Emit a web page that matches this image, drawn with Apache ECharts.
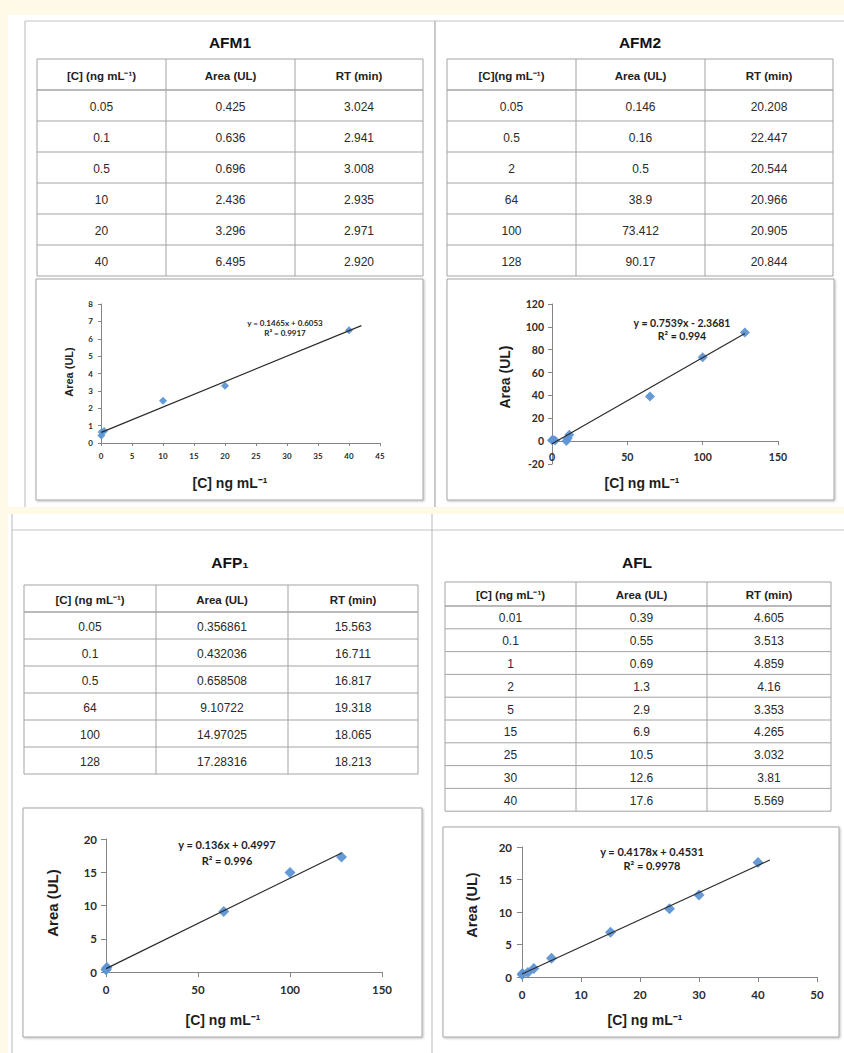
<!DOCTYPE html>
<html>
<head>
<meta charset="utf-8">
<script src="https://cdn.jsdelivr.net/npm/echarts@6/dist/echarts.min.js"></script>
<style>
  html, body { margin: 0; padding: 0; background: #fffae8; }
  #main { width: 844px; height: 1053px; }
</style>
</head>
<body>
<div id="main"></div>
<script>
// ---- AFM1 calibration ----
const afm1Header = ['[C] (ng mL⁻¹)', 'Area (UL)', 'RT (min)'];
const afm1Conc = [0.05, 0.1, 0.5, 10, 20, 40];
const afm1Area = [0.425, 0.636, 0.696, 2.436, 3.296, 6.495];
const afm1RT = ['3.024', '2.941', '3.008', '2.935', '2.971', '2.920'];
const afm1Trend = [0.1465, 0.6053];
const afm1R2 = '0.9917';
const afm1TrendRange = [0.05, 42];

// ---- AFM2 calibration ----
const afm2Header = ['[C](ng mL⁻¹)', 'Area (UL)', 'RT (min)'];
const afm2Conc = [0.05, 0.5, 2, 64, 100, 128];
const afm2Area = [0.146, 0.16, 0.5, 38.9, 73.412, 90.17];
const afm2RT = ['20.208', '22.447', '20.544', '20.966', '20.905', '20.844'];
// points plotted on the AFM2 curve
const afm2PlotConc = [0.05, 0.5, 2, 9.5, 10.5, 11.5, 65, 100, 128];
const afm2PlotArea = [0.8, 1.2, 0.5, 0.2, 2.5, 5.5, 39, 73.4, 95];
const afm2Trend = [0.7539, -2.3681];
const afm2R2 = '0.994';
const afm2TrendRange = [0.05, 128];

// ---- AFP1 calibration ----
const afp1Header = ['[C] (ng mL⁻¹)', 'Area (UL)', 'RT (min)'];
const afp1Conc = [0.05, 0.1, 0.5, 64, 100, 128];
const afp1Area = [0.356861, 0.432036, 0.658508, 9.10722, 14.97025, 17.28316];
const afp1RT = ['15.563', '16.711', '16.817', '19.318', '18.065', '18.213'];
const afp1Trend = [0.136, 0.4997];
const afp1R2 = '0.996';
const afp1TrendRange = [0.05, 128];

// ---- AFL calibration ----
const aflHeader = ['[C] (ng mL⁻¹)', 'Area (UL)', 'RT (min)'];
const aflConc = [0.01, 0.1, 1, 2, 5, 15, 25, 30, 40];
const aflArea = [0.39, 0.55, 0.69, 1.3, 2.9, 6.9, 10.5, 12.6, 17.6];
const aflRT = ['4.605', '3.513', '4.859', '4.16', '3.353', '4.265', '3.032', '3.81', '5.569'];
const aflTrend = [0.4178, 0.4531];
const aflR2 = '0.9978';
const aflTrendRange = [0.01, 42];

// axis scales [min, max, interval]
const afm1XAxis = [0, 45, 5];   const afm1YAxis = [0, 8, 1];
const afm2XAxis = [0, 150, 50]; const afm2YAxis = [-20, 120, 20];
const afp1XAxis = [0, 150, 50]; const afp1YAxis = [0, 20, 5];
const aflXAxis = [0, 50, 10];   const aflYAxis = [0, 20, 5];

// ---- layout ----
const tableFont = "'Liberation Sans', Arial, sans-serif";
const excelFont = "Lato, 'Open Sans', sans-serif";
const gridLine = '#a3a3a3';
const markerColor = '#5e95d4';

const panels = [
  {
    title: 'AFM1', titlePos: [230, 42], header: afm1Header, conc: afm1Conc, area: afm1Area, rt: afm1RT,
    px: afm1Conc, py: afm1Area, trend: afm1Trend, r2: afm1R2, range: afm1TrendRange, xs: afm1XAxis, ys: afm1YAxis,
    cols: [37, 166, 295, 423], tTop: 59, headH: 31, rowH: 31,
    box: [36, 279, 387, 221], grid: [101, 304, 279, 139],
    tick: 8, tickLen: 3, xMargin: 9, yMargin: 8, marker: 8,
    eq: [285, 323, 333, 8], xTitle: [230, 483, 14], yTitle: [69, 372, 11]
  },
  {
    title: 'AFM2', titlePos: [640, 42], header: afm2Header, conc: afm2Conc, area: afm2Area, rt: afm2RT,
    px: afm2PlotConc, py: afm2PlotArea, trend: afm2Trend, r2: afm2R2, range: afm2TrendRange, xs: afm2XAxis, ys: afm2YAxis,
    cols: [447, 576, 705, 833], tTop: 59, headH: 31, rowH: 31,
    box: [447, 279, 387, 221], grid: [552, 304, 226, 160],
    tick: 10.5, tickLen: 4, xMargin: 10, yMargin: 8, marker: 10,
    eq: [682, 323, 336, 10.5], xTitle: [642, 483, 14], yTitle: [505, 377, 14]
  },
  {
    title: 'AFP₁', titlePos: [230, 562], header: afp1Header, conc: afp1Conc, area: afp1Area, rt: afp1RT,
    px: afp1Conc, py: afp1Area, trend: afp1Trend, r2: afp1R2, range: afp1TrendRange, xs: afp1XAxis, ys: afp1YAxis,
    cols: [24, 156, 288, 418], tTop: 585, headH: 27, rowH: 27,
    box: [23, 808, 399, 229], grid: [106, 839, 276, 133],
    tick: 11.5, tickLen: 5, xMargin: 11, yMargin: 9, marker: 11,
    eq: [227, 844, 860, 11], xTitle: [223, 1020, 14], yTitle: [52, 903, 15]
  },
  {
    title: 'AFL', titlePos: [637, 562], header: aflHeader, conc: aflConc, area: aflArea, rt: aflRT,
    px: aflConc, py: aflArea, trend: aflTrend, r2: aflR2, range: aflTrendRange, xs: aflXAxis, ys: aflYAxis,
    cols: [445, 576, 707, 831], tTop: 582, headH: 24, rowH: 22.8,
    box: [443, 827, 396, 210], grid: [522, 847, 295, 130],
    tick: 11.5, tickLen: 5, xMargin: 11, yMargin: 10, marker: 11,
    eq: [652, 851, 865, 11], xTitle: [645, 1020, 14], yTitle: [472, 905, 14.5]
  }
];

function label(x, y, text, size, weight, family, extra, color) {
  return Object.assign({
    type: 'text', x: x, y: y, z: 5, silent: true,
    style: {
      text: text, fill: color || '#1e1e1e', fontSize: size, fontWeight: weight, fontFamily: family,
      align: 'center', verticalAlign: 'middle', textAlign: 'center', textVerticalAlign: 'middle'
    }
  }, extra || {});
}
function hline(x1, x2, y, color, w) {
  return { type: 'line', z: 1, silent: true, shape: { x1: x1, y1: y, x2: x2, y2: y }, style: { stroke: color, lineWidth: w || 1 } };
}
function vline(x, y1, y2, color, w) {
  return { type: 'line', z: 1, silent: true, shape: { x1: x, y1: y1, x2: x, y2: y2 }, style: { stroke: color, lineWidth: w || 1 } };
}

const graphics = [];
// white page blocks and frame rules
graphics.push({ type: 'rect', z: -10, silent: true, shape: { x: 8, y: 15, width: 836, height: 492 }, style: { fill: '#ffffff' } });
graphics.push({ type: 'rect', z: -10, silent: true, shape: { x: 8, y: 514, width: 836, height: 539 }, style: { fill: '#ffffff' } });
graphics.push(hline(25, 844, 21, '#c4c4c4', 1));
graphics.push(vline(25, 21, 507, '#b8b8b8', 1));
graphics.push(vline(435, 21, 507, '#b8b8b8', 1.5));
graphics.push(vline(12, 514, 1053, '#b8b8b8', 1));
graphics.push(hline(12, 844, 530, '#c4c4c4', 1));
graphics.push(vline(432, 514, 1053, '#b8b8b8', 1));

panels.forEach(function (p) {
  // panel title
  graphics.push(label(p.titlePos[0], p.titlePos[1], p.title, 15.5, 'bold', tableFont, null, '#111'));

  // data table
  const c = p.cols;
  const nRows = p.conc.length;
  const bottom = p.tTop + p.headH + nRows * p.rowH;
  graphics.push(hline(c[0], c[3], p.tTop, gridLine));
  for (let r = 0; r <= nRows; r++) {
    const y = p.tTop + p.headH + r * p.rowH;
    graphics.push(hline(c[0], c[3], y, gridLine, r === 0 ? 1.4 : 1));
  }
  c.forEach(function (x) { graphics.push(vline(x, p.tTop, bottom, gridLine)); });
  const centers = [(c[0] + c[1]) / 2, (c[1] + c[2]) / 2, (c[2] + c[3]) / 2];
  p.header.forEach(function (h, k) {
    graphics.push(label(centers[k], p.tTop + p.headH / 2 + 1, h, 11.5, 'bold', tableFont, null, '#222'));
  });
  for (let r = 0; r < nRows; r++) {
    const y = p.tTop + p.headH + (r + 0.5) * p.rowH + 1;
    const cells = [String(p.conc[r]), String(p.area[r]), p.rt[r]];
    cells.forEach(function (t, k) {
      graphics.push(label(centers[k], y, t, 12, 'normal', tableFont, null, '#2a2a2a'));
    });
  }

  // chart frame
  graphics.push({
    type: 'rect', z: -5, silent: true,
    shape: { x: p.box[0], y: p.box[1], width: p.box[2], height: p.box[3] },
    style: { fill: '#ffffff', stroke: '#a6a6a6', lineWidth: 1, shadowBlur: 2, shadowOffsetX: 1, shadowOffsetY: 1, shadowColor: 'rgba(0,0,0,0.25)' }
  });

  // trendline equation
  const b = p.trend[1];
  const eqText = 'y = ' + p.trend[0] + 'x ' + (b < 0 ? '- ' : '+ ') + Math.abs(b);
  graphics.push(label(p.eq[0], p.eq[1], eqText, p.eq[3], 'bold', excelFont));
  graphics.push(label(p.eq[0], p.eq[2], 'R² = ' + p.r2, p.eq[3], 'bold', excelFont));

  // axis titles
  graphics.push(label(p.xTitle[0], p.xTitle[1], '[C] ng mL⁻¹', p.xTitle[2], 'bold', tableFont));
  graphics.push(label(p.yTitle[0], p.yTitle[1], 'Area (UL)', p.yTitle[2], 'bold', tableFont, { rotation: Math.PI / 2 }));
});

const grids = [], xAxes = [], yAxes = [], series = [];
panels.forEach(function (p, i) {
  grids.push({ left: p.grid[0], top: p.grid[1], width: p.grid[2], height: p.grid[3], containLabel: false });
  const axisCommon = {
    gridIndex: i, type: 'value',
    axisLine: { show: true, onZero: false, lineStyle: { color: '#858585', width: 1 } },
    axisTick: { show: true, inside: false, length: p.tickLen, lineStyle: { color: '#858585', width: 1 } },
    splitLine: { show: false },
    axisLabel: { fontSize: p.tick, fontWeight: 'bold', fontFamily: excelFont, color: '#2b2b2b' }
  };
  // the horizontal axis sits on y = 0 when the value range dips below zero
  const zeroShift = p.ys[0] < 0 ? -p.grid[3] * (-p.ys[0]) / (p.ys[1] - p.ys[0]) : 0;
  xAxes.push(Object.assign({}, axisCommon, {
    min: p.xs[0], max: p.xs[1], interval: p.xs[2], offset: zeroShift,
    axisLabel: Object.assign({}, axisCommon.axisLabel, { margin: p.xMargin })
  }));
  yAxes.push(Object.assign({}, axisCommon, {
    min: p.ys[0], max: p.ys[1], interval: p.ys[2],
    axisLabel: Object.assign({}, axisCommon.axisLabel, { margin: p.yMargin })
  }));
  series.push({
    type: 'scatter', xAxisIndex: i, yAxisIndex: i, z: 3,
    symbol: 'diamond', symbolSize: p.marker,
    itemStyle: { color: markerColor, opacity: 0.95 },
    data: p.px.map(function (x, j) { return [x, p.py[j]]; })
  });
  series.push({
    type: 'line', xAxisIndex: i, yAxisIndex: i, z: 4, silent: true,
    symbol: 'none', lineStyle: { color: '#2a2a2a', width: 1.2 },
    data: p.range.map(function (x) { return [x, p.trend[0] * x + p.trend[1]]; })
  });
});

const chart = echarts.init(document.getElementById('main'), null, { renderer: 'svg', width: 844, height: 1053 });
chart.setOption({
  animation: false,
  backgroundColor: '#fffae8',
  graphic: { elements: graphics },
  grid: grids,
  xAxis: xAxes,
  yAxis: yAxes,
  series: series
});
</script>
</body>
</html>
